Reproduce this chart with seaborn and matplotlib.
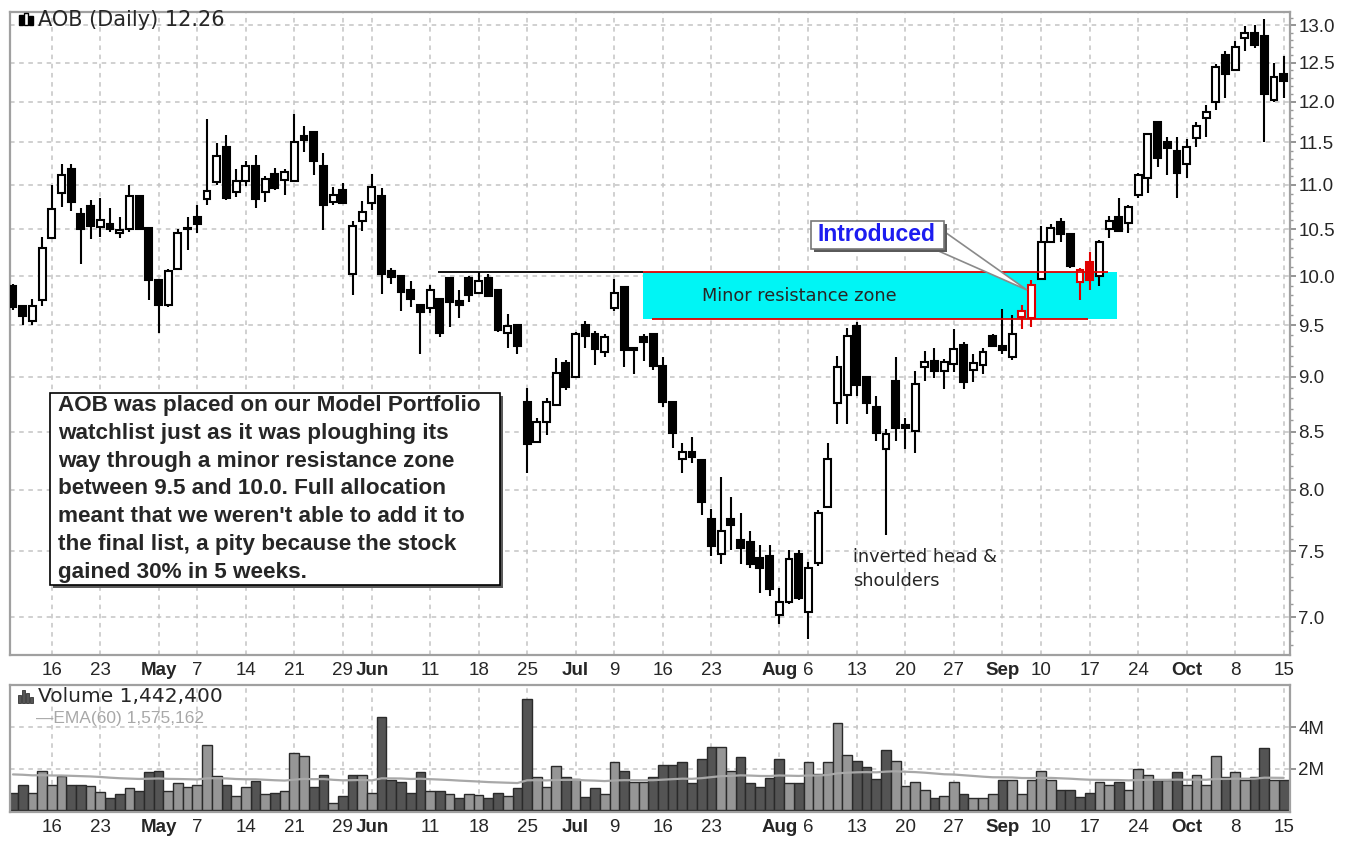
import numpy as np
import pandas as pd
import matplotlib
matplotlib.use("Agg")
import matplotlib.pyplot as plt
import seaborn as sns
from matplotlib.patches import Rectangle, Polygon
import matplotlib.ticker as mticker

# ---------------- data ----------------
holidays = ["2007-05-28", "2007-07-04", "2007-09-03"]
dates = pd.bdate_range("2007-04-10", "2007-10-15").drop(pd.to_datetime(holidays))

opens = [9.90, 9.69, 9.54, 9.75, 10.41, 10.91, 11.18, 10.67, 10.76, 10.53,
         10.56, 10.46, 10.50, 10.87, 10.52, 9.96, 9.70, 10.07, 10.52, 10.64,
         10.84, 11.03, 11.44, 10.92, 11.04, 11.22, 10.92, 11.13, 11.06, 11.05,
         11.58, 11.63, 11.22, 10.81, 10.94, 10.02, 10.59, 10.79, 10.87, 10.05,
         10.00, 9.86, 9.70, 9.67, 9.76, 9.98, 9.74, 9.98, 9.83, 9.98,
         9.86, 9.42, 9.50, 8.77, 8.41, 8.59, 8.74, 9.13, 9.00, 9.50,
         9.41, 9.24, 9.67, 9.89, 9.28, 9.38, 9.41, 9.10, 8.77, 8.26,
         8.32, 8.25, 7.76, 7.48, 7.76, 7.59, 7.57, 7.45, 7.46, 7.02,
         7.11, 7.48, 7.04, 7.41, 7.86, 8.76, 8.83, 9.49, 9.00, 8.72,
         8.35, 8.96, 8.56, 8.51, 9.09, 9.15, 9.06, 9.12, 9.31, 9.07,
         9.11, 9.39, 9.30, 9.19, 9.58, 9.57, 9.97, 10.36, 10.58, 10.45,
         9.94, 10.15, 10.00, 10.50, 10.64, 10.57, 10.89, 11.08, 11.75, 11.50,
         11.40, 11.24, 11.55, 11.80, 12.00, 12.60, 12.41, 12.82, 12.90, 12.86,
         12.02, 12.35]
highs = [9.92, 9.70, 9.76, 10.42, 11.00, 11.24, 11.24, 10.74, 10.83, 10.85,
         10.74, 10.64, 11.00, 10.88, 10.52, 9.96, 10.08, 10.50, 10.64, 10.77,
         11.79, 11.49, 11.59, 11.18, 11.28, 11.35, 11.10, 11.20, 11.18, 11.85,
         11.70, 11.64, 11.37, 10.98, 11.02, 10.59, 10.82, 11.13, 10.96, 10.09,
         10.00, 9.95, 9.70, 9.91, 9.77, 9.99, 9.86, 10.00, 10.04, 10.02,
         9.86, 9.61, 9.50, 8.90, 8.62, 8.80, 9.18, 9.16, 9.43, 9.54,
         9.44, 9.41, 9.97, 9.90, 9.29, 9.41, 9.41, 9.19, 8.78, 8.40,
         8.45, 8.25, 7.84, 8.11, 7.94, 7.81, 7.66, 7.55, 7.55, 7.22,
         7.51, 7.51, 7.42, 7.83, 8.40, 9.20, 9.47, 9.53, 9.01, 8.82,
         8.52, 9.19, 8.62, 9.06, 9.25, 9.28, 9.17, 9.46, 9.33, 9.22,
         9.28, 9.41, 9.66, 9.60, 9.70, 9.96, 10.54, 10.56, 10.63, 10.46,
         10.09, 10.26, 10.38, 10.65, 10.85, 10.77, 11.14, 11.61, 11.76, 11.56,
         11.57, 11.54, 11.75, 11.96, 12.48, 12.66, 12.79, 12.99, 13.00, 13.08,
         12.49, 12.59]
lows = [9.65, 9.50, 9.50, 9.69, 10.40, 10.75, 10.70, 10.13, 10.40, 10.42,
        10.47, 10.41, 10.47, 10.50, 9.75, 9.42, 9.68, 10.06, 10.28, 10.46,
        10.77, 11.00, 10.83, 10.86, 10.99, 10.74, 10.81, 10.94, 10.88, 11.04,
        11.38, 11.12, 10.49, 10.77, 10.78, 9.80, 10.48, 10.72, 9.82, 9.92,
        9.64, 9.68, 9.22, 9.62, 9.38, 9.48, 9.57, 9.73, 9.83, 9.78,
        9.43, 9.28, 9.22, 8.14, 8.40, 8.47, 8.74, 8.88, 8.99, 9.28,
        9.11, 9.19, 9.64, 9.09, 9.03, 9.15, 9.07, 8.72, 8.36, 8.14,
        8.23, 7.79, 7.46, 7.40, 7.51, 7.40, 7.37, 7.18, 7.16, 6.95,
        7.10, 7.13, 6.84, 7.39, 7.85, 8.57, 8.57, 8.82, 8.66, 8.42,
        7.63, 8.42, 8.35, 8.31, 8.96, 8.99, 8.89, 9.05, 8.89, 8.95,
        9.03, 9.29, 9.22, 9.16, 9.46, 9.48, 9.96, 10.35, 10.36, 10.09,
        9.75, 9.86, 9.90, 10.41, 10.47, 10.46, 10.85, 10.91, 11.21, 11.12,
        10.85, 11.08, 11.45, 11.57, 11.90, 12.05, 12.39, 12.66, 12.69, 11.50,
        12.00, 12.05]
closes = [9.68, 9.59, 9.69, 10.30, 10.73, 11.12, 10.81, 10.50, 10.54, 10.60,
          10.50, 10.49, 10.87, 10.51, 9.96, 9.70, 10.05, 10.46, 10.50, 10.56,
          10.93, 11.34, 10.85, 11.04, 11.22, 10.84, 11.07, 10.97, 11.15, 11.51,
          11.53, 11.28, 10.77, 10.88, 10.79, 10.54, 10.69, 10.98, 10.02, 9.99,
          9.84, 9.76, 9.63, 9.86, 9.42, 9.73, 9.70, 9.81, 9.95, 9.79,
          9.45, 9.49, 9.30, 8.39, 8.59, 8.77, 9.04, 8.91, 9.41, 9.39,
          9.27, 9.38, 9.83, 9.26, 9.26, 9.33, 9.10, 8.77, 8.49, 8.32,
          8.28, 7.90, 7.54, 7.66, 7.71, 7.53, 7.40, 7.37, 7.21, 7.11,
          7.44, 7.14, 7.37, 7.81, 8.26, 9.09, 9.39, 8.92, 8.76, 8.49,
          8.48, 8.53, 8.53, 8.93, 9.14, 9.06, 9.14, 9.27, 8.95, 9.13,
          9.24, 9.30, 9.26, 9.41, 9.64, 9.91, 10.36, 10.52, 10.45, 10.11,
          10.06, 9.96, 10.36, 10.59, 10.48, 10.75, 11.12, 11.60, 11.32, 11.43,
          11.14, 11.45, 11.70, 11.87, 12.45, 12.35, 12.71, 12.89, 12.73, 12.10,
          12.32, 12.26]
volumes_m = [0.83, 1.23, 0.83, 1.90, 1.23, 1.66, 1.20, 1.20, 1.14, 0.86,
             0.56, 0.75, 1.04, 0.94, 1.84, 1.90, 0.94, 1.31, 1.10, 1.23,
             3.15, 1.63, 1.23, 0.67, 1.10, 1.42, 0.75, 0.83, 0.94, 2.78,
             2.59, 1.10, 1.71, 0.35, 0.67, 1.71, 1.71, 0.83, 4.51, 1.44,
             1.34, 0.83, 1.82, 0.94, 0.94, 0.75, 0.56, 0.75, 0.70, 0.56,
             0.83, 0.67, 1.04, 5.36, 1.60, 1.12, 2.11, 1.60, 1.52, 0.64,
             1.04, 0.75, 2.30, 1.90, 1.34, 1.34, 1.60, 2.16, 2.16, 2.30,
             1.31, 2.48, 3.06, 3.06, 1.90, 2.56, 1.31, 1.10, 1.55, 2.48,
             1.31, 1.31, 2.30, 1.74, 2.30, 4.22, 2.67, 2.38, 2.10, 1.52,
             2.88, 2.38, 1.14, 1.34, 0.96, 0.56, 0.67, 1.34, 0.75, 0.56,
             0.56, 0.75, 1.44, 1.44, 0.75, 1.44, 1.90, 1.44, 0.96, 0.96,
             0.64, 0.83, 1.34, 1.23, 1.34, 0.96, 2.00, 1.71, 1.44, 1.44,
             1.82, 1.23, 1.71, 1.23, 2.59, 1.60, 1.82, 1.44, 1.60, 3.00,
             1.44, 1.442]
ema_start_m = 1.75
highlight_idx = [104, 105, 110, 111]   # candles drawn in red

tick_dates = ["2007-04-16", "2007-04-23", "2007-05-01", "2007-05-07", "2007-05-14",
              "2007-05-21", "2007-05-29", "2007-06-01", "2007-06-11", "2007-06-18",
              "2007-06-25", "2007-07-02", "2007-07-09", "2007-07-16", "2007-07-23",
              "2007-08-01", "2007-08-06", "2007-08-13", "2007-08-20", "2007-08-27",
              "2007-09-04", "2007-09-10", "2007-09-17", "2007-09-24", "2007-10-01",
              "2007-10-08", "2007-10-15"]
tick_labels = ["16", "23", "May", "7", "14", "21", "29", "Jun", "11", "18", "25", "Jul",
               "9", "16", "23", "Aug", "6", "13", "20", "27", "Sep", "10", "17", "24",
               "Oct", "8", "15"]
price_ticks = [7.0, 7.5, 8.0, 8.5, 9.0, 9.5, 10.0, 10.5, 11.0, 11.5, 12.0, 12.5, 13.0]
zone_top, zone_bottom = 10.04, 9.565

note_lines = ["AOB was placed on our Model Portfolio",
              "watchlist just as it was ploughing its",
              "way through a minor resistance zone",
              "between 9.5 and 10.0. Full allocation",
              "meant that we weren't able to add it to",
              "the final list, a pity because the stock",
              "gained 30% in 5 weeks."]

# ---------------- frame ----------------
df = pd.DataFrame({"date": dates, "open": opens, "high": highs, "low": lows,
                   "close": closes, "vol": volumes_m})
df["idx"] = np.arange(len(df))
prev = df["close"].shift(1)
df["dir"] = np.where(df["close"] >= prev, "up", "down")
df.loc[0, "dir"] = "down"
ema = [ema_start_m]
alpha = 2 / 61
for v in df["vol"]:
    ema.append(ema[-1] + alpha * (v - ema[-1]))
df["ema"] = ema[1:]

tick_pos = [df.index[df["date"] == pd.Timestamp(d)][0] for d in tick_dates]
months = {"May", "Jun", "Jul", "Aug", "Sep", "Oct"}

sns.set_theme(style="white")
plt.rcParams["font.family"] = ["Liberation Sans", "DejaVu Sans"]

W, H = 1359, 842
fig = plt.figure(figsize=(W / 100, H / 100), dpi=100)
fig.patch.set_facecolor("white")


def fx(x):
    return x / W


def fy(y):
    return 1 - y / H


ax = fig.add_axes([fx(10), fy(655), (1290 - 10) / W, (655 - 12) / H])
axv = fig.add_axes([fx(10), fy(812), (1290 - 10) / W, (812 - 685) / H])

grid_kw = dict(color="#c4c4c4", linestyle=(0, (3, 3)), linewidth=1.1)
xlim = (-0.31, 131.65)

for a in (ax, axv):
    for s in a.spines.values():
        s.set_color("#a0a0a0")
        s.set_linewidth(1.6)
    a.set_facecolor("white")

# ---------------- price panel ----------------
ax.set_yscale("log")
ax.set_ylim(6.73, 13.18)
ax.set_xlim(*xlim)
for p in price_ticks:
    ax.axhline(p, zorder=0, **grid_kw)
for t in tick_pos:
    ax.axvline(t, zorder=0, **grid_kw)

ax.fill_between([64.9, 113.8], zone_bottom, zone_top, color="#00f5f5", zorder=1, linewidth=0)

bw = 0.72
for i, r in df.iterrows():
    up = r["close"] >= r["open"]
    red = i in highlight_idx
    edge = "#e00000" if red else "black"
    fill = ("white" if up else "black")
    if red and not up:
        fill = "#e00000"
    ax.vlines(i, r["low"], r["high"], color=edge, linewidth=1.5, zorder=2)
    lo = min(r["open"], r["close"])
    hgt = max(abs(r["close"] - r["open"]), 0.012)
    ax.bar(i, hgt, bottom=lo, width=bw, color=fill, edgecolor=edge, linewidth=1.5, zorder=3)

ax.hlines(zone_top, 43.8, 64.9, color="black", linewidth=1.3, zorder=4)
ax.hlines(zone_top, 64.9, 112.9, color="#e00000", linewidth=1.3, zorder=4)
ax.hlines(zone_bottom, 65.9, 110.8, color="#e00000", linewidth=1.3, zorder=4)

ax.text(71.0, 9.79, "Minor resistance zone", fontsize=12.8, family=["DejaVu Sans"],
        va="center", ha="left", zorder=5)
ax.text(86.6, 7.53, "inverted head &\nshoulders", fontsize=12.8, family=["DejaVu Sans"],
        va="top", ha="left", linespacing=1.45, zorder=5)

ax.yaxis.tick_right()
ax.set_yticks(price_ticks)
ax.yaxis.set_major_formatter(mticker.FormatStrFormatter("%.1f"))
ax.yaxis.set_minor_locator(mticker.FixedLocator(np.arange(6.8, 13.15, 0.1)))
ax.yaxis.set_minor_formatter(mticker.NullFormatter())
ax.tick_params(axis="y", which="major", length=4, color="#888888", labelsize=13.5, pad=2)
ax.tick_params(axis="y", which="minor", length=2, color="#999999")
ax.set_xticks(tick_pos)
ax.set_xticklabels(tick_labels)
ax.tick_params(axis="x", which="major", length=0, labelsize=13.5, pad=5)
ax.set_xlabel("")
ax.set_ylabel("")

ax.text(0.022, 1 - 8.5 / 643, "AOB (Daily) 12.26", transform=ax.transAxes, fontsize=15,
        family=["DejaVu Sans"], va="center", ha="left")
# small candlestick icon next to the title
for (x0, y0, h0, filled) in [(19, 15, 10, True), (24, 13, 12, False), (29, 16, 9, True)]:
    fig.add_artist(Rectangle((fx(x0), fy(y0 + h0)), 3.5 / W, h0 / H, transform=fig.transFigure,
                             facecolor="black" if filled else "white", edgecolor="black",
                             linewidth=1.0, zorder=12))

# ---------------- volume panel ----------------
sns.barplot(data=df, x="idx", y="vol", hue="dir", palette={"up": "#969696", "down": "#545454"},
            dodge=False, native_scale=True, width=1.0, edgecolor="#2a2a2a", linewidth=1.0,
            legend=False, ax=axv, zorder=2)
sns.lineplot(data=df, x="idx", y="ema", color="#a8a8a8", linewidth=1.6, ax=axv, zorder=3)
axv.set_xlim(*xlim)
axv.set_ylim(-0.1, 6.05)
for p in (2, 4):
    axv.axhline(p, zorder=0, **grid_kw)
for t in tick_pos:
    axv.axvline(t, zorder=0, **grid_kw)
axv.yaxis.tick_right()
axv.set_yticks([2, 4])
axv.set_yticklabels(["2M", "4M"])
axv.tick_params(axis="y", length=4, color="#888888", labelsize=13.5, pad=2)
axv.set_xticks(tick_pos)
axv.set_xticklabels(tick_labels)
axv.tick_params(axis="x", length=0, labelsize=13.5, pad=5)
axv.set_xlabel("")
axv.set_ylabel("")
axv.text(0.022, 1 - 11 / 127, "Volume 1,442,400", transform=axv.transAxes, fontsize=14.5,
         family=["DejaVu Sans"], va="center", ha="left")
axv.text(0.02, 1 - 33 / 127, "\u2014EMA(60) 1,575,162", transform=axv.transAxes, fontsize=12.5,
         color="#a8a8a8", va="center", ha="left")
# small volume icon
for (x0, h0) in [(18, 8), (22, 13), (26, 10), (30, 6)]:
    fig.add_artist(Rectangle((fx(x0), fy(703)), 3 / W, h0 / H, transform=fig.transFigure,
                             facecolor="#555555", edgecolor="#333333", linewidth=0.6, zorder=12))

for a in (ax, axv):
    for lbl in a.get_xticklabels():
        if lbl.get_text() in months:
            lbl.set_fontweight("bold")

# ---------------- annotations (figure pixel coords) ----------------
fig.add_artist(Rectangle((fx(53), fy(588)), (500 - 50) / W, (585 - 393) / H,
                         transform=fig.transFigure, facecolor="#5a5a5a", edgecolor="none", zorder=10))
fig.add_artist(Rectangle((fx(50), fy(585)), (500 - 50) / W, (585 - 393) / H,
                         transform=fig.transFigure, facecolor="white", edgecolor="black",
                         linewidth=1.2, zorder=11))
for k, line in enumerate(note_lines):
    fig.text(fx(58), fy(411 + k * 27.8), line, fontsize=16.2, fontweight="bold",
             va="baseline", ha="left", zorder=12)

fig.add_artist(Polygon([(fx(942), fy(230)), (fx(1027), fy(290)), (fx(934), fy(249))],
                       closed=True, transform=fig.transFigure, facecolor="white",
                       edgecolor="#8a8a8a", linewidth=1.2, zorder=10))
fig.add_artist(Rectangle((fx(814), fy(252)), (945 - 812) / W, (249 - 221) / H,
                         transform=fig.transFigure, facecolor="#5a5a5a", edgecolor="none", zorder=10))
fig.add_artist(Rectangle((fx(811), fy(249)), (945 - 812) / W, (249 - 221) / H,
                         transform=fig.transFigure, facecolor="white", edgecolor="#777777",
                         linewidth=1.2, zorder=11))
fig.text(fx(876), fy(235), "Introduced", fontsize=16.5, fontweight="bold", color="#1c1cf0",
         va="center", ha="center", zorder=12)

fig.savefig("out.png", dpi=100, facecolor="white")
